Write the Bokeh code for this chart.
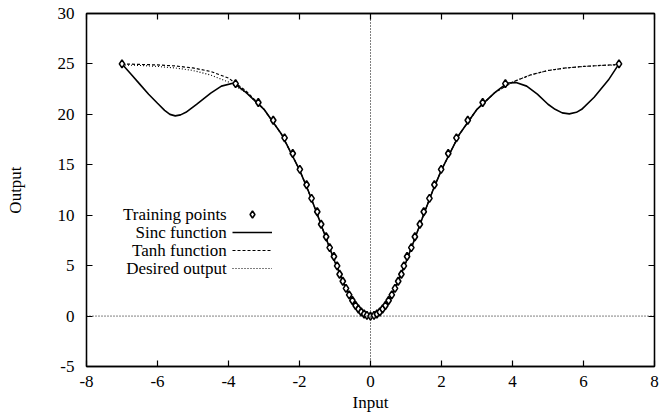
from bokeh.plotting import figure
from bokeh.models import Range1d, FixedTicker, LinearAxis, Span, Legend, LegendItem, Label
from bokeh.embed import file_html
from bokeh.resources import INLINE

# ---------------- data ----------------
x_ticks = [-8, -6, -4, -2, 0, 2, 4, 6, 8]
y_ticks = [-5, 0, 5, 10, 15, 20, 25, 30]

# training points, left half (mirrored for the right half)
train_x_half = [-7.0, -3.80, -3.16, -2.74, -2.42, -2.19, -1.99, -1.80, -1.66, -1.50,
                -1.39, -1.25, -1.15, -1.03, -0.94, -0.87, -0.78, -0.69, -0.60, -0.51,
                -0.42, -0.34, -0.26, -0.18, -0.10]
train_y_half = [25.0, 23.05, 21.17, 19.42, 17.67, 16.12, 14.54, 13.02, 11.67, 10.35,
                9.10, 7.87, 6.79, 5.90, 4.98, 4.15, 3.45, 2.75, 2.10, 1.55,
                1.05, 0.70, 0.40, 0.20, 0.07]
train_x = train_x_half + [0.0] + [-v for v in reversed(train_x_half)]
train_y = train_y_half + [0.0] + list(reversed(train_y_half))

# desired output
desired_x = [-7, -6.5, -6, -5.5, -5, -4.5, -4, -3.5, -3, -2.5, -2, -1.75, -1.5, -1.25, -1,
             -0.75, -0.5, -0.25, 0, 0.25, 0.5, 0.75, 1, 1.25, 1.5, 1.75, 2, 2.5, 3, 3.5,
             4, 4.5, 5, 5.5, 6, 6.5, 7]
desired_y = [24.9, 24.85, 24.75, 24.6, 24.35, 23.9, 23.2, 22.15, 20.5, 18.0, 14.5, 12.4,
             10.1, 7.7, 5.35, 3.2, 1.5, 0.4, 0.0, 0.4, 1.5, 3.2, 5.35, 7.7, 10.1, 12.4,
             14.5, 18.0, 20.5, 22.15, 23.2, 23.9, 24.35, 24.6, 24.75, 24.85, 24.9]

# tanh network output
tanh_x = desired_x
tanh_y = [25.0, 24.95, 24.9, 24.8, 24.6, 24.25, 23.6, 22.3, 20.5, 18.0, 14.5, 12.4,
          10.1, 7.7, 5.35, 3.2, 1.5, 0.4, 0.0, 0.4, 1.5, 3.2, 5.35, 7.7, 10.1, 12.4,
          14.5, 18.0, 20.5, 22.15, 23.2, 23.9, 24.35, 24.6, 24.75, 24.85, 24.95]

# sinc network output
sinc_x = [-7.0, -6.75, -6.5, -6.25, -6.0, -5.8, -5.65, -5.5, -5.35, -5.2, -4.9, -4.5, -4.2,
          -3.85, -3.5, -3, -2.5, -2, -1.75, -1.5, -1.25, -1, -0.75, -0.5, -0.25, 0,
          0.25, 0.5, 0.75, 1, 1.25, 1.5, 1.75, 2, 2.5, 3, 3.5, 3.85, 4.1, 4.4, 4.7,
          5.0, 5.2, 5.4, 5.6, 5.8, 5.95, 6.3, 6.7, 7.0]
sinc_y = [25.0, 24.0, 23.0, 22.0, 21.1, 20.4, 20.0, 19.85, 19.95, 20.2, 21.0, 22.1, 22.8,
          23.1, 22.15, 20.5, 18.0, 14.5, 12.4, 10.1, 7.7, 5.35, 3.2, 1.5, 0.4, 0.0,
          0.4, 1.5, 3.2, 5.35, 7.7, 10.1, 12.4, 14.5, 18.0, 20.5, 22.15, 23.1, 23.15,
          22.8, 22.0, 21.0, 20.5, 20.15, 20.05, 20.2, 20.5, 21.7, 23.4, 25.0]

legend_labels = ["Training points", "Sinc function", "Tanh function", "Desired output"]

# ---------------- figure ----------------
FONT = "Liberation Serif"
FS = "17px"
p = figure(width=661, height=414, output_backend="svg", toolbar_location=None,
           x_range=Range1d(-8, 8), y_range=Range1d(-5, 30),
           min_border_left=86, min_border_right=7, min_border_top=13, min_border_bottom=47)
p.background_fill_color = "white"
p.border_fill_color = "white"
p.outline_line_color = "black"
p.outline_line_width = 1.3
p.xgrid.visible = False
p.ygrid.visible = False

def style_axis(ax, ticks, labels=True):
    ax.ticker = FixedTicker(ticks=ticks)
    ax.major_tick_in = 6
    ax.major_tick_out = 0
    ax.minor_tick_line_color = None
    ax.axis_line_color = "black"
    ax.axis_line_width = 1.3
    ax.major_tick_line_color = "black"
    ax.major_tick_line_width = 1.2
    ax.major_label_text_font = FONT
    ax.major_label_text_font_size = FS
    ax.major_label_text_color = "black"
    if labels:
        ax.major_label_overrides = {t: str(t) for t in ticks}
    else:
        ax.major_label_overrides = {t: "" for t in ticks}
        ax.major_label_standoff = 0

style_axis(p.xaxis[0], x_ticks)
style_axis(p.yaxis[0], y_ticks)
p.xaxis[0].axis_label = "Input"
p.yaxis[0].axis_label = "Output"
for ax in (p.xaxis[0], p.yaxis[0]):
    ax.axis_label_text_font = FONT
    ax.axis_label_text_font_size = FS
    ax.axis_label_text_font_style = "normal"
    ax.axis_label_text_color = "black"
p.xaxis[0].major_label_standoff = 9
p.xaxis[0].axis_label_standoff = 3
p.yaxis[0].major_label_standoff = 12
p.yaxis[0].axis_label_standoff = 30

# mirrored inward ticks on the top and right edges
top_ax = LinearAxis()
right_ax = LinearAxis()
style_axis(top_ax, x_ticks, labels=False)
style_axis(right_ax, y_ticks, labels=False)
p.add_layout(top_ax, "above")
p.add_layout(right_ax, "right")

# zero lines
p.add_layout(Span(location=0, dimension="width", line_color="black", line_width=1, line_dash="1 2"))
p.add_layout(Span(location=0, dimension="height", line_color="black", line_width=1, line_dash="1 2"))

# curves
r_des = p.line(desired_x, desired_y, line_color="black", line_width=1.1, line_dash="1 2")
r_tanh = p.line(tanh_x, tanh_y, line_color="black", line_width=1.2, line_dash="3 2")
r_sinc = p.line(sinc_x, sinc_y, line_color="black", line_width=1.6)
r_pts = p.scatter(train_x, train_y, marker="diamond", size=8, fill_color="white",
                  line_color="black", line_width=1.6)

# legend: glyph samples (to the right of the right-aligned legend texts)
legend = Legend(items=[LegendItem(label=" ", renderers=[r]) for r in (r_pts, r_sinc, r_tanh, r_des)],
                location=(146, 89), orientation="vertical",
                glyph_width=40, glyph_height=18, label_width=0, label_height=18,
                label_standoff=0, padding=0, margin=0, spacing=0,
                label_text_font=FONT, label_text_font_size=FS,
                border_line_alpha=0, background_fill_alpha=0)
p.add_layout(legend, "center")

legend_y = [10.12, 8.27, 6.49, 4.71]
for lab, ly in zip(legend_labels, legend_y):
    p.add_layout(Label(x=-4.05, y=ly, text=lab, text_align="right", text_baseline="middle",
                       text_font=FONT, text_font_size=FS, text_color="black"))

open("out.html", "w").write(file_html(p, INLINE))
